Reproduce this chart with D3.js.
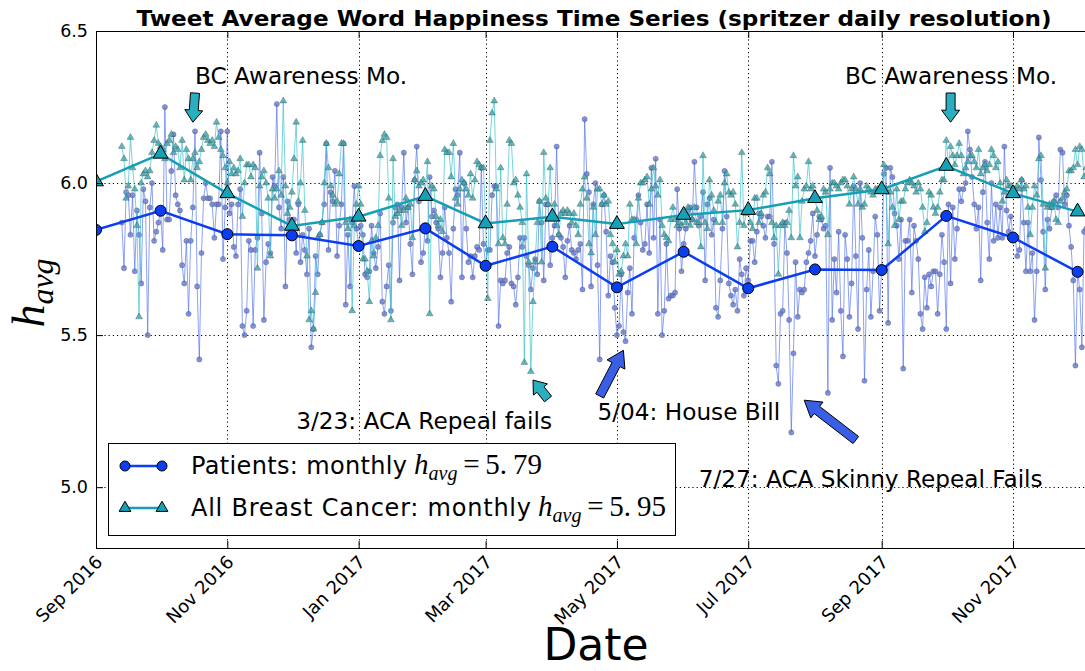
<!DOCTYPE html>
<html>
<head>
<meta charset="utf-8">
<script src="https://cdn.jsdelivr.net/npm/d3@7"></script>
<style>
  body { margin: 0; background: #fff; }
  svg { display: block; font-family: "DejaVu Sans", sans-serif; }
</style>
</head>
<body>
<div id="chart"></div>
<script>
// daily series start on Sep 13 2016, one value per day
var dailyStart = Date.UTC(2016, 8, 13);

var patientsDaily = [
  5.87,5.72,5.97,5.96,5.83,5.96,5.71,5.91,5.83,5.67,
  5.98,5.94,5.50,5.92,6.00,5.81,5.84,5.87,5.91,5.78,
  6.25,5.88,5.88,6.04,6.16,5.96,5.93,5.91,5.73,5.67,
  5.81,5.57,5.81,5.92,6.17,5.66,5.42,5.77,5.95,6.00,
  5.95,5.95,5.93,5.82,5.93,5.93,6.17,5.75,5.92,6.17,
  5.90,5.93,5.79,5.76,5.93,5.98,5.53,5.50,5.58,5.81,
  5.78,5.53,5.78,5.82,
  6.10,5.90,5.55,5.74,5.80,5.77,6.02,5.99,6.26,5.92,
  5.85,6.02,5.66,5.94,5.88,5.83,5.88,5.77,5.93,5.74,
  5.83,5.78,5.70,5.85,5.46,5.52,5.76,5.70,5.83,5.87,
  5.93,6.13,5.78,5.97,5.94,6.04,5.76,5.86,5.93,6.13,
  5.60,5.83,5.66,5.87,5.99,5.85,5.80,5.86,5.83,5.70,
  5.69,5.71,5.86,5.77,5.72,5.79,5.90,5.61,5.57,5.66,
  5.73,5.58,5.87,5.92,5.93,5.68,5.92,6.10,5.87,5.92,
  5.80,5.70,6.01,6.12,
  5.94,5.74,5.77,5.86,5.81,6.02,5.89,5.91,5.87,5.85,
  5.69,5.77,5.92,5.82,5.77,5.61,5.85,5.98,5.96,6.10,
  5.69,6.00,5.85,5.74,5.76,5.69,5.76,5.79,5.78,6.05,
  5.80,5.73,5.78,5.78,5.96,5.99,5.99,5.53,5.68,5.67,
  5.68,5.77,5.79,5.67,5.66,5.60,5.69,5.82,5.79,5.82,
  5.76,5.73,5.65,5.72,5.75,5.70,5.94,5.87,5.68,5.93,
  5.93,5.73,5.82,5.86,6.12,5.83,5.82,5.79,5.69,5.81,
  5.86,5.78,5.77,
  5.75,5.78,5.80,5.65,6.21,6.03,5.97,5.66,5.93,6.00,
  5.73,5.42,5.93,5.96,5.84,5.63,5.76,5.74,5.59,5.50,
  5.53,5.70,5.51,5.48,5.64,5.72,5.57,5.82,5.88,5.96,
  5.87,5.78,5.80,5.93,5.77,6.05,5.82,6.08,5.57,5.88,
  5.50,5.58,5.80,5.62,5.63,5.63,5.64,5.98,5.85,5.71,
  5.80,5.85,5.91,5.92,5.88,6.07,5.92,5.86,5.89,5.97,
  5.68,5.93,5.95,5.83,5.88,5.59,5.56,5.68,5.85,6.04,
  5.89,5.67,5.63,5.60,5.65,5.58,
  5.75,5.70,5.63,5.72,5.68,5.81,5.81,5.74,5.84,5.90,
  5.89,5.86,5.82,5.89,5.89,6.07,5.80,5.40,5.34,5.57,
  5.58,5.87,5.77,5.55,5.18,5.44,5.74,5.56,5.65,5.64,
  5.65,5.74,5.77,5.81,5.90,5.76,5.83,5.89,5.88,5.85,
  5.86,5.31,6.05,5.55,5.75,5.64,5.84,5.58,5.43,5.83,
  5.75,5.56,5.67,5.99,5.76,5.52,6.00,5.82,5.35,5.65,
  5.78,5.56,5.71,5.89,5.83,5.58,5.72,6.03,6.05,5.54,
  6.05,6.02,5.90,5.86,
  5.75,5.88,5.39,5.81,5.81,5.88,5.64,5.86,5.81,5.75,
  5.57,5.52,5.69,5.59,5.70,5.66,5.71,5.71,5.57,5.70,
  5.83,5.74,5.52,5.93,5.67,5.92,5.75,5.85,5.98,5.94,
  5.98,6.00,6.17,6.11,6.02,5.93,5.85,5.92,5.68,5.97,
  6.07,5.87,5.75,6.00,5.81,5.93,5.82,5.92,5.82,6.12,
  5.91,5.84,5.89,5.82,5.82,5.76,5.78,6.01,5.87,5.71,
  5.87,5.71,5.77,5.55,5.71,6.15,6.01,5.84,5.65,5.88,
  5.85,5.92,5.94,5.96,5.92,6.11,6.10,5.93,5.96,5.86,
  5.79,5.68,5.40,5.71,5.65,5.46,5.84,5.85
];

var cancerDaily = [
  6.12,6.08,5.95,5.99,6.15,6.05,5.98,5.86,5.56,6.00,
  6.03,6.04,6.02,6.04,6.10,6.14,6.19,6.13,6.12,6.11,
  6.08,6.13,6.14,6.16,6.10,6.12,6.11,6.05,6.14,6.01,
  6.11,6.08,6.01,6.08,6.10,6.05,6.07,6.11,6.15,6.16,
  6.14,6.13,6.14,6.12,6.20,6.15,6.11,6.09,6.05,6.00,
  6.07,6.03,6.05,6.03,6.04,6.08,5.89,6.00,6.06,6.06,
  6.02,6.06,6.05,5.72,
  5.99,6.02,6.04,6.00,5.95,5.76,5.98,5.95,5.98,6.04,
  5.96,6.27,5.99,5.90,5.92,5.97,6.08,6.20,5.94,6.00,
  6.14,5.91,5.76,5.55,5.58,5.52,5.64,5.82,5.83,5.87,
  6.00,6.13,6.05,5.99,5.96,5.93,5.94,6.03,6.13,6.13,
  5.87,5.85,5.88,5.58,5.86,5.93,5.99,5.93,5.75,5.75,
  5.71,5.61,5.81,5.76,5.82,5.86,6.09,6.14,6.16,6.15,
  5.95,5.55,6.08,5.89,5.90,5.91,5.86,5.91,5.95,5.92,
  5.93,5.82,6.01,6.04,
  5.99,6.00,6.01,5.97,6.07,5.57,5.99,5.98,5.89,5.86,
  5.88,5.84,6.11,6.10,6.10,6.02,6.13,5.95,5.93,5.98,
  6.01,6.00,5.98,5.96,6.03,5.95,6.01,6.07,6.06,6.05,
  6.05,5.87,5.62,6.14,6.23,6.27,5.98,5.80,6.05,5.82,
  5.80,5.93,6.14,6.13,6.00,6.01,5.96,5.92,5.87,5.41,
  6.03,5.74,5.38,5.61,5.74,5.87,5.94,5.74,6.10,5.95,
  5.93,6.05,5.89,5.93,5.86,5.83,5.90,5.91,5.90,5.91,
  5.90,5.87,5.90,
  5.86,5.83,5.93,5.98,6.02,5.95,5.80,5.77,5.92,5.83,
  5.98,5.98,5.93,5.96,5.93,5.94,5.83,5.80,5.74,5.78,
  5.70,5.71,5.76,5.80,5.76,5.93,5.88,5.88,5.80,5.95,
  6.00,6.00,6.01,6.02,5.93,5.98,6.05,5.99,5.96,6.01,
  5.86,5.83,5.82,5.81,5.88,5.92,5.88,5.86,5.87,5.86,
  5.89,5.87,5.92,5.86,5.88,5.92,5.87,5.87,5.79,6.09,
  5.87,5.85,6.01,5.96,5.91,5.87,5.94,5.96,5.87,6.00,
  6.03,5.97,5.96,5.97,5.93,5.79,
  5.87,6.10,5.86,5.90,5.91,5.87,5.85,5.95,5.95,5.87,
  5.90,5.96,5.97,6.05,6.03,5.87,5.82,5.86,5.70,5.86,
  5.87,5.86,5.87,5.91,5.82,6.09,5.99,6.02,5.82,5.94,
  5.98,5.99,6.07,5.98,5.99,5.95,5.91,5.88,5.89,5.98,
  5.97,5.83,5.98,6.00,6.00,5.99,5.98,6.00,6.01,6.01,
  5.99,5.93,5.98,6.02,5.98,5.93,5.98,5.92,5.93,5.99,
  5.98,5.97,5.96,5.98,5.98,5.98,5.98,6.06,5.98,5.80,
  5.97,5.92,5.86,5.98,
  5.88,5.94,5.94,5.98,6.00,6.01,6.00,5.99,5.97,6.00,
  5.98,5.92,5.84,5.87,5.97,5.96,5.92,5.90,5.92,5.97,
  6.01,6.01,6.14,6.06,6.12,6.09,6.06,6.09,6.13,6.09,
  6.03,6.05,6.07,6.09,6.09,6.07,6.05,6.11,6.03,6.05,
  6.06,6.04,6.06,6.11,6.09,6.05,6.07,6.00,5.94,5.97,
  6.01,5.99,5.99,5.97,5.98,5.99,5.98,6.01,5.98,5.99,
  5.92,5.83,5.92,5.99,5.96,6.08,6.09,5.93,5.72,5.92,
  5.93,5.92,5.94,5.88,5.87,5.94,5.95,5.97,5.98,6.04,
  6.04,6.05,6.11,6.06,6.12,6.11,6.02,6.05
];

// monthly averages, plotted at the first of each month
var months = ["2016-09","2016-10","2016-11","2016-12","2017-01","2017-02","2017-03","2017-04",
              "2017-05","2017-06","2017-07","2017-08","2017-09","2017-10","2017-11","2017-12"];
var patientsMonthly = [5.846,5.909,5.832,5.828,5.793,5.851,5.728,5.791,5.657,5.774,5.654,5.716,5.714,5.892,5.821,5.708];
var cancerMonthly   = [6.005,6.096,5.966,5.859,5.889,5.957,5.867,5.889,5.865,5.895,5.911,5.950,5.979,6.056,5.966,5.906];

var xTickDates = ["2016-09","2016-11","2017-01","2017-03","2017-05","2017-07","2017-09","2017-11"];
var yTicks = [5.0, 5.5, 6.0, 6.5];

var legendLabels = [
  {name: "Patients: monthly", mean: "5.79"},
  {name: "All Breast Cancer: monthly", mean: "5.95"}
];

// annotation arrows: tip and tail in data coords, text anchor in data coords
var notes = [
  {text: "BC Awareness Mo.", tx: "2016-10-17", ty: 6.326, tip: ["2016-10-16", 6.20], tail: ["2016-10-17", 6.296], kind: "bc", len: "short"},
  {text: "BC Awareness Mo.", tx: "2017-08-15", ty: 6.326, tip: ["2017-10-03", 6.20], tail: ["2017-10-03", 6.296], kind: "bc", len: "short"},
  {text: "3/23: ACA Repeal fails", tx: "2016-12-03", ty: 5.19, tip: ["2017-03-23", 5.352], tail: ["2017-03-30", 5.29], kind: "bc", len: "short"},
  {text: "5/04: House Bill", tx: "2017-04-22", ty: 5.22, tip: ["2017-05-04", 5.45], tail: ["2017-04-23", 5.30], kind: "pt", len: "long"},
  {text: "7/27: ACA Skinny Repeal Fails", tx: "2017-06-08", ty: 5.0, tip: ["2017-07-27", 5.286], tail: ["2017-08-20", 5.155], kind: "pt", len: "long"}
];

var W = 1085, H = 671;
var parseMonth = d3.utcParse("%Y-%m");
var parseDay = d3.utcParse("%Y-%m-%d");

var x = d3.scaleUtc()
    .domain([parseMonth("2016-09"), parseMonth("2017-11")])
    .range([96, 1013]);
var y = d3.scaleLinear()
    .domain([4.8, 6.5])
    .range([548, 31]);

var plotLeft = x.range()[0], plotTop = y.range()[1], plotBottom = y.range()[0];
var plotRight = x(parseDay("2017-12-08"));

var svg = d3.select("#chart").append("svg").attr("width", W).attr("height", H);

svg.append("defs").append("clipPath").attr("id", "plotclip")
  .append("rect").attr("x", plotLeft).attr("y", plotTop)
  .attr("width", plotRight - plotLeft).attr("height", plotBottom - plotTop);

// grid
var grid = svg.append("g").attr("stroke", "#000").attr("stroke-dasharray", "1.2,3").attr("stroke-width", 1);
xTickDates.forEach(function(m) {
  var xx = Math.round(x(parseMonth(m))) + 0.5;
  grid.append("line").attr("x1", xx).attr("x2", xx).attr("y1", plotTop).attr("y2", plotBottom);
});
yTicks.forEach(function(v) {
  var yy = Math.round(y(v)) + 0.5;
  grid.append("line").attr("x1", plotLeft).attr("x2", plotRight).attr("y1", yy).attr("y2", yy);
});

var dailyDate = function(i) { return new Date(dailyStart + i * 864e5); };

var plot = svg.append("g").attr("clip-path", "url(#plotclip)");

var line = d3.line().x(function(d) { return x(d[0]); }).y(function(d) { return y(d[1]); });

var pd = patientsDaily.map(function(v, i) { return [dailyDate(i), v]; });
var cd = cancerDaily.map(function(v, i) { return [dailyDate(i), v]; });

// daily patients
plot.append("path").datum(pd)
  .attr("d", line).attr("fill", "none")
  .attr("stroke", "#4f6fee").attr("stroke-opacity", 0.65).attr("stroke-width", 1);
plot.append("g").selectAll("circle").data(pd).enter().append("circle")
  .attr("cx", function(d) { return x(d[0]); })
  .attr("cy", function(d) { return y(d[1]); })
  .attr("r", 2.6)
  .attr("fill", "#6479d6").attr("fill-opacity", 0.8)
  .attr("stroke", "#444").attr("stroke-opacity", 0.6).attr("stroke-width", 0.5);

// daily breast cancer
var triSmall = d3.symbol().type(d3.symbolTriangle).size(20);
plot.append("path").datum(cd)
  .attr("d", line).attr("fill", "none")
  .attr("stroke", "#3cc3cf").attr("stroke-opacity", 0.7).attr("stroke-width", 1);
plot.append("g").selectAll("path").data(cd).enter().append("path")
  .attr("d", triSmall)
  .attr("transform", function(d) { return "translate(" + x(d[0]) + "," + y(d[1]) + ")"; })
  .attr("fill", "#3aa6ac").attr("fill-opacity", 0.8)
  .attr("stroke", "#333").attr("stroke-opacity", 0.6).attr("stroke-width", 0.5);

// monthly series
var pm = patientsMonthly.map(function(v, i) { return [parseMonth(months[i]), v]; });
var cm = cancerMonthly.map(function(v, i) { return [parseMonth(months[i]), v]; });
var triBig = d3.symbol().type(d3.symbolTriangle).size(95);

plot.append("path").datum(cm).attr("d", line).attr("fill", "none")
  .attr("stroke", "#13a0b4").attr("stroke-width", 2.5);
plot.append("g").selectAll("path").data(cm).enter().append("path")
  .attr("d", triBig)
  .attr("transform", function(d) { return "translate(" + x(d[0]) + "," + y(d[1]) + ")"; })
  .attr("fill", "#16a2b6").attr("stroke", "#000").attr("stroke-width", 1);

plot.append("path").datum(pm).attr("d", line).attr("fill", "none")
  .attr("stroke", "#0a3ef0").attr("stroke-width", 2.5);
plot.append("g").selectAll("circle").data(pm).enter().append("circle")
  .attr("cx", function(d) { return x(d[0]); })
  .attr("cy", function(d) { return y(d[1]); })
  .attr("r", 5.5)
  .attr("fill", "#0a3ef0").attr("stroke", "#000").attr("stroke-width", 1);

// frame + axes (ticks point inward)
svg.append("rect").attr("x", plotLeft + 0.5).attr("y", plotTop + 0.5)
  .attr("width", plotRight - plotLeft).attr("height", plotBottom - plotTop)
  .attr("fill", "none").attr("stroke", "#000").attr("stroke-width", 1);

var xAxis = d3.axisBottom(x)
  .tickValues(xTickDates.map(parseMonth))
  .tickFormat(d3.utcFormat("%b %Y"))
  .tickSizeInner(-7).tickSizeOuter(0).tickPadding(0);
var gx = svg.append("g").attr("transform", "translate(0," + plotBottom + ")").call(xAxis);
gx.select(".domain").remove();
gx.selectAll("text")
  .attr("font-family", "DejaVu Sans").attr("font-size", 18).attr("fill", "#000")
  .attr("text-anchor", "end")
  .attr("transform", "translate(-2,6) rotate(-45)")
  .attr("dy", "0.72em").attr("dx", "0");

var gxTop = svg.append("g").attr("transform", "translate(0," + plotTop + ")")
  .call(d3.axisTop(x).tickValues(xTickDates.map(parseMonth)).tickFormat("").tickSizeInner(-7).tickSizeOuter(0));
gxTop.select(".domain").remove();

var yAxis = d3.axisLeft(y).tickValues(yTicks).tickFormat(d3.format(".1f"))
  .tickSizeInner(-7).tickSizeOuter(0).tickPadding(8);
var gy = svg.append("g").attr("transform", "translate(" + plotLeft + ",0)").call(yAxis);
gy.select(".domain").remove();
gy.selectAll("text").attr("font-family", "DejaVu Sans").attr("font-size", 17.5).attr("fill", "#000");

// title and axis labels
svg.append("text").attr("x", 594).attr("y", 26)
  .attr("text-anchor", "middle").attr("font-weight", "bold").attr("font-size", 22)
  .attr("textLength", 915).attr("lengthAdjust", "spacingAndGlyphs")
  .text("Tweet Average Word Happiness Time Series (spritzer daily resolution)");

svg.append("text").attr("x", 596).attr("y", 660)
  .attr("text-anchor", "middle").attr("font-size", 44).text("Date");

var yl = svg.append("text").attr("transform", "translate(44,293) rotate(-90)")
  .attr("text-anchor", "middle").attr("font-family", "Liberation Serif, serif").attr("font-style", "italic");
yl.append("tspan").attr("font-size", 46).text("h");
yl.append("tspan").attr("font-size", 32).attr("dy", 9).text("avg");

// annotations
function arrowPoly(x0, y0, x1, y1, sw, hw, hl) {
  var dx = x1 - x0, dy = y1 - y0, L = Math.sqrt(dx * dx + dy * dy);
  var ux = dx / L, uy = dy / L, nx = -uy, ny = ux;
  var bx = x1 - ux * hl, by = y1 - uy * hl;
  var pts = [
    [x0 + nx * sw, y0 + ny * sw], [bx + nx * sw, by + ny * sw], [bx + nx * hw, by + ny * hw],
    [x1, y1],
    [bx - nx * hw, by - ny * hw], [bx - nx * sw, by - ny * sw], [x0 - nx * sw, y0 - ny * sw]
  ];
  return "M" + pts.map(function(p) { return p[0].toFixed(1) + "," + p[1].toFixed(1); }).join("L") + "Z";
}

var ann = svg.append("g");
notes.forEach(function(n) {
  ann.append("text").attr("x", x(parseDay(n.tx))).attr("y", y(n.ty))
    .attr("font-size", 23.2).attr("fill", "#000").text(n.text);
  var col = n.kind === "bc" ? "#2aafc0" : "#3a5fe6";
  var dims = n.len === "short" ? [4.5, 9, 12] : [4.5, 10, 16];
  ann.append("path")
    .attr("d", arrowPoly(x(parseDay(n.tail[0])), y(n.tail[1]), x(parseDay(n.tip[0])), y(n.tip[1]), dims[0], dims[1], dims[2]))
    .attr("fill", col).attr("stroke", "#000").attr("stroke-width", 1).attr("stroke-linejoin", "miter");
});

// legend
var lg = svg.append("g");
lg.append("rect").attr("x", 108.5).attr("y", 443.5).attr("width", 567).attr("height", 92)
  .attr("fill", "#fff").attr("stroke", "#000").attr("stroke-width", 1);
var rows = [466, 508];
var nameWidths = [216, 340];
legendLabels.forEach(function(l, i) {
  var yy = rows[i];
  if (i === 0) {
    lg.append("line").attr("x1", 125).attr("x2", 162).attr("y1", yy).attr("y2", yy)
      .attr("stroke", "#0a3ef0").attr("stroke-width", 2.5);
    [125, 162].forEach(function(cx) {
      lg.append("circle").attr("cx", cx).attr("cy", yy).attr("r", 5)
        .attr("fill", "#0a3ef0").attr("stroke", "#000").attr("stroke-width", 1);
    });
  } else {
    lg.append("line").attr("x1", 125).attr("x2", 162).attr("y1", yy).attr("y2", yy)
      .attr("stroke", "#13a0b4").attr("stroke-width", 2.5);
    [125, 162].forEach(function(cx) {
      lg.append("path").attr("d", d3.symbol().type(d3.symbolTriangle).size(60))
        .attr("transform", "translate(" + cx + "," + yy + ")")
        .attr("fill", "#16a2b6").attr("stroke", "#000").attr("stroke-width", 1);
    });
  }
  lg.append("text").attr("x", 191).attr("y", yy + 8).attr("font-size", 24)
    .attr("textLength", nameWidths[i]).attr("lengthAdjust", "spacing").text(l.name);
  var t = lg.append("text").attr("x", 191 + nameWidths[i] + 7).attr("y", yy + 8)
    .attr("font-family", "Liberation Serif, serif");
  t.append("tspan").attr("font-style", "italic").attr("font-size", 29).text("h");
  t.append("tspan").attr("font-style", "italic").attr("font-size", 20).attr("dy", 6).text("avg");
  t.append("tspan").attr("font-size", 29).attr("dy", -6).text("\u2009=\u20095.\u2009" + l.mean.slice(2));
});
</script>
</body>
</html>
